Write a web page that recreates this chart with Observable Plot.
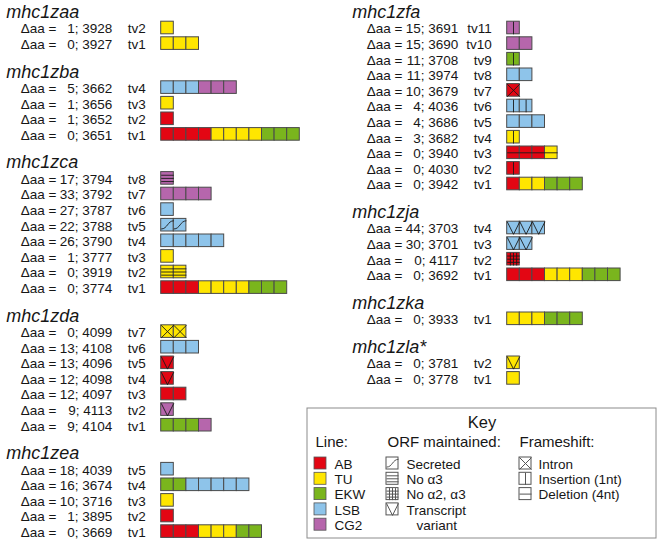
<!DOCTYPE html>
<html>
<head>
<meta charset="utf-8">
<script src="https://cdn.jsdelivr.net/npm/d3@7"></script>
<script src="https://cdn.jsdelivr.net/npm/@observablehq/plot@0.6"></script>
<style>
  body { margin: 0; background: #fff; }
  #wrap { position: relative; width: 660px; height: 545px; }
  #key { position: absolute; left: 306px; top: 407px; }
  svg { overflow: visible; }
</style>
</head>
<body>
<div id="wrap"><div id="main"></div><div id="key"></div></div>
<script>
// ---------- data ----------
const LINES = ["AB", "TU", "EKW", "LSB", "CG2"];
const LINE_COLORS = ["#e30613", "#ffe600", "#7ab51d", "#8ec4ea", "#b666ac"];

const ORF_KEY = ["secreted", "noA3", "noA2A3", "variant"];
const ORF_LABELS = ["Secreted", "No α3", "No α2, α3", "Transcript"];
const FRAME_KEY = ["intron", "insertion", "deletion"];
const FRAME_LABELS = ["Intron", "Insertion (1nt)", "Deletion (4nt)"];

const leftGenes = ["mhc1zaa", "mhc1zba", "mhc1zca", "mhc1zda", "mhc1zea"];
const rightGenes = ["mhc1zfa", "mhc1zja", "mhc1zka", "mhc1zla*"];

// [transcript, Δaa, id, blocks [line, count], modification]
const mhc1zaa = [
  ["tv2", 1, 3928, [["TU", 1]], ""],
  ["tv1", 0, 3927, [["TU", 3]], ""]
];
const mhc1zba = [
  ["tv4", 5, 3662, [["LSB", 3], ["CG2", 3]], ""],
  ["tv3", 1, 3656, [["TU", 1]], ""],
  ["tv2", 1, 3652, [["AB", 1]], ""],
  ["tv1", 0, 3651, [["AB", 4], ["TU", 4], ["EKW", 3]], ""]
];
const mhc1zca = [
  ["tv8", 17, 3794, [["CG2", 1]], "noA3"],
  ["tv7", 33, 3792, [["CG2", 4]], ""],
  ["tv6", 27, 3787, [["LSB", 1]], ""],
  ["tv5", 22, 3788, [["LSB", 2]], "secreted"],
  ["tv4", 26, 3790, [["LSB", 5]], ""],
  ["tv3", 1, 3777, [["TU", 1]], ""],
  ["tv2", 0, 3919, [["TU", 2]], "noA3"],
  ["tv1", 0, 3774, [["AB", 3], ["TU", 4], ["EKW", 3]], ""]
];
const mhc1zda = [
  ["tv7", 0, 4099, [["TU", 2]], "intron"],
  ["tv6", 13, 4108, [["LSB", 3]], ""],
  ["tv5", 13, 4096, [["AB", 1]], "variant"],
  ["tv4", 12, 4098, [["AB", 1]], "variant"],
  ["tv3", 12, 4097, [["AB", 2]], ""],
  ["tv2", 9, 4113, [["CG2", 1]], "variant"],
  ["tv1", 9, 4104, [["EKW", 3], ["CG2", 1]], ""]
];
const mhc1zea = [
  ["tv5", 18, 4039, [["LSB", 1]], ""],
  ["tv4", 16, 3674, [["EKW", 2], ["LSB", 5]], ""],
  ["tv3", 10, 3716, [["TU", 1]], ""],
  ["tv2", 1, 3895, [["AB", 1]], ""],
  ["tv1", 0, 3669, [["AB", 3], ["TU", 3], ["EKW", 2]], ""]
];
const mhc1zfa = [
  ["tv11", 15, 3691, [["CG2", 1]], "insertion"],
  ["tv10", 15, 3690, [["CG2", 2]], ""],
  ["tv9", 11, 3708, [["EKW", 1]], "insertion"],
  ["tv8", 11, 3974, [["LSB", 2]], ""],
  ["tv7", 10, 3679, [["AB", 1]], "intron"],
  ["tv6", 4, 4036, [["LSB", 2]], "insertion"],
  ["tv5", 4, 3686, [["LSB", 3]], ""],
  ["tv4", 3, 3682, [["TU", 1]], "insertion"],
  ["tv3", 0, 3940, [["AB", 3], ["TU", 1]], "deletion"],
  ["tv2", 0, 4030, [["AB", 1]], "insertion"],
  ["tv1", 0, 3942, [["AB", 1], ["TU", 2], ["EKW", 3]], ""]
];
const mhc1zja = [
  ["tv4", 44, 3703, [["LSB", 3]], "variant"],
  ["tv3", 30, 3701, [["LSB", 2]], "variant"],
  ["tv2", 0, 4117, [["AB", 1]], "noA2A3"],
  ["tv1", 0, 3692, [["AB", 3], ["TU", 3], ["EKW", 3]], ""]
];
const mhc1zka = [
  ["tv1", 0, 3933, [["TU", 3], ["EKW", 3]], ""]
];
const mhc1zla = [
  ["tv2", 0, 3781, [["TU", 1]], "variant"],
  ["tv1", 0, 3778, [["TU", 1]], ""]
];
const transcripts = {
  "mhc1zaa": mhc1zaa, "mhc1zba": mhc1zba, "mhc1zca": mhc1zca, "mhc1zda": mhc1zda,
  "mhc1zea": mhc1zea, "mhc1zfa": mhc1zfa, "mhc1zja": mhc1zja, "mhc1zka": mhc1zka,
  "mhc1zla*": mhc1zla
};

// ---------- layout ----------
const W = 660, H = 545;
const BOX = 12.6;          // px per block
const PITCH = 15.6;        // px per row
const FIRST = 27.5;        // px of first row centre
const GROUP_GAP = 44 / PITCH; // rows from last row of one gene to first of next
const HALF = 6.3 / PITCH;  // half block height, in row units
const columns = [
  {genes: leftGenes, start: 160.7 / BOX},
  {genes: rightGenes, start: 506.7 / BOX}
];
const FONT = "'Liberation Sans', Arial, Helvetica, sans-serif";
const INK = "#161616";
const EDGE = "#4a4a4a";
const FS = 13.5;

// pattern geometry in block fractions (fx, fy from top-left)
const PATTERNS = {
  intron: [[0, 0, 1, 1], [0, 1, 1, 0]],
  variant: [[0, 0, 0.5, 1], [0.5, 1, 1, 0]],
  insertion: [[0.5, 0, 0.5, 1]],
  deletion: [[0, 0.5, 1, 0.5]],
  noA3: [[0, 0.25, 1, 0.25], [0, 0.5, 1, 0.5], [0, 0.75, 1, 0.75]],
  noA2A3: [[0, 0.25, 1, 0.25], [0, 0.5, 1, 0.5], [0, 0.75, 1, 0.75],
           [0.25, 0, 0.25, 1], [0.5, 0, 0.5, 1], [0.75, 0, 0.75, 1]],
  secreted: [[0, 0.8, 1, 0.15]]
};
function patternSegs(mod, x0, w, yTop, h) {
  return (PATTERNS[mod] || []).map(([a, b, c, d]) => ({
    x1: x0 + a * w, y1: yTop + b * h, x2: x0 + c * w, y2: yTop + d * h, mod
  }));
}

const titles = [], rows = [], blocks = [], segs = [];
for (const col of columns) {
  let slot = 0;
  col.genes.forEach((g, gi) => {
    if (gi > 0) slot += GROUP_GAP - 1;
    titles.push({name: g, x: col.start, y: slot - 10 / PITCH});
    for (const [tv, daa, id, parts, mod] of transcripts[g]) {
      rows.push({tv, daa, id, x: col.start, y: slot});
      let i = 0;
      for (const [line, n] of parts) {
        for (let k = 0; k < n; k++, i++) {
          const x0 = col.start + i;
          blocks.push({line, x1: x0, x2: x0 + 1, y1: slot - HALF, y2: slot + HALF});
          segs.push(...patternSegs(mod, x0, 1, slot - HALF, 2 * HALF));
        }
      }
      slot += 1;
    }
  });
}

const main = Plot.plot({
  width: W, height: H, margin: 0,
  x: {domain: [0, W / BOX], range: [0, W], axis: null},
  y: {domain: [-FIRST / PITCH, (H - FIRST) / PITCH], range: [0, H], axis: null},
  color: {domain: LINES, range: LINE_COLORS},
  style: {fontFamily: FONT, color: INK, background: "#fff"},
  marks: [
    Plot.text(titles, {x: "x", y: "y", text: "name", textAnchor: "start", lineAnchor: "bottom",
      dx: -155, fontSize: 18, fontStyle: "italic", fill: INK}),
    Plot.text(rows, {x: "x", y: "y", text: () => "Δaa =", textAnchor: "start",
      dx: -140.5, dy: 1, fontSize: FS, fill: INK}),
    Plot.text(rows, {x: "x", y: "y", text: d => `${d.daa}; ${d.id}`, textAnchor: "end",
      dx: -49, dy: 1, fontSize: FS, fill: INK}),
    Plot.text(rows, {x: "x", y: "y", text: "tv", textAnchor: "end",
      dx: -15.5, dy: 1, fontSize: FS, fill: INK}),
    Plot.rect(blocks, {x1: "x1", x2: "x2", y1: "y1", y2: "y2", fill: "line", stroke: EDGE, strokeWidth: 1}),
    Plot.link(segs.filter(s => s.mod !== "secreted"), {x1: "x1", y1: "y1", x2: "x2", y2: "y2",
      stroke: "#1a1a1a", strokeWidth: 0.9}),
    Plot.link(segs.filter(s => s.mod === "secreted"), {x1: "x1", y1: "y1", x2: "x2", y2: "y2",
      curve: "bump-x", stroke: "#1a1a1a", strokeWidth: 0.9})
  ]
});
document.getElementById("main").append(main);

// ---------- key ----------
const KW = 350, KH = 131;
const K_ROW0 = 56, K_PITCH = 15.3, K_ICON = 12;
const kCols = {line: {head: 9, icon: 8, label: 28}, orf: {head: 81, icon: 80, label: 100},
               frame: {head: 213, icon: 213, label: 232}};
const heads = [
  {text: "Line:", x: kCols.line.head},
  {text: "ORF maintained:", x: kCols.orf.head},
  {text: "Frameshift:", x: kCols.frame.head}
];
const kSw = [], kIcons = [], kSegs = [], kLabels = [];
LINES.forEach((l, i) => {
  const y = K_ROW0 + i * K_PITCH;
  kSw.push({line: l, x1: kCols.line.icon, x2: kCols.line.icon + K_ICON, y1: y - K_ICON / 2, y2: y + K_ICON / 2});
  kLabels.push({text: l, x: kCols.line.label, y});
});
function addIcons(keys, labels, c) {
  keys.forEach((m, i) => {
    const y = K_ROW0 + i * K_PITCH;
    kIcons.push({x1: c.icon, x2: c.icon + K_ICON, y1: y - K_ICON / 2, y2: y + K_ICON / 2});
    kSegs.push(...patternSegs(m, c.icon, K_ICON, y - K_ICON / 2, K_ICON));
    kLabels.push({text: labels[i], x: c.label, y});
  });
}
addIcons(ORF_KEY, ORF_LABELS, kCols.orf);
addIcons(FRAME_KEY, FRAME_LABELS, kCols.frame);
kLabels.push({text: "variant", x: kCols.orf.label + 10, y: K_ROW0 + ORF_KEY.length * K_PITCH});

const KEYGREY = "#555";
const key = Plot.plot({
  width: KW, height: KH, margin: 0,
  x: {domain: [0, KW], range: [0, KW], axis: null},
  y: {domain: [0, KH], range: [0, KH], axis: null},
  color: {domain: LINES, range: LINE_COLORS},
  style: {fontFamily: FONT, color: INK, background: "#fff"},
  marks: [
    Plot.frame({stroke: "#8c8c8c", strokeWidth: 1, inset: 0.5}),
    Plot.text(["Key"], {x: KW / 2 + 0.5, y: 15, text: d => d, fontSize: 16.5, fill: INK}),
    Plot.text(heads, {x: "x", y: 35, text: "text", textAnchor: "start", fontSize: 15, fill: INK}),
    Plot.rect(kSw, {x1: "x1", x2: "x2", y1: "y1", y2: "y2", fill: "line", stroke: KEYGREY, strokeWidth: 0.8}),
    Plot.rect(kIcons, {x1: "x1", x2: "x2", y1: "y1", y2: "y2", fill: "#fff", stroke: KEYGREY, strokeWidth: 1}),
    Plot.link(kSegs.filter(s => s.mod !== "secreted"), {x1: "x1", y1: "y1", x2: "x2", y2: "y2", stroke: KEYGREY, strokeWidth: 1}),
    Plot.link(kSegs.filter(s => s.mod === "secreted"), {x1: "x1", y1: "y1", x2: "x2", y2: "y2", curve: "bump-x", stroke: KEYGREY, strokeWidth: 1}),
    Plot.text(kLabels, {x: "x", y: "y", text: "text", textAnchor: "start", dy: 1, fontSize: FS, fill: INK})
  ]
});
document.getElementById("key").append(key);
</script>
</body>
</html>
